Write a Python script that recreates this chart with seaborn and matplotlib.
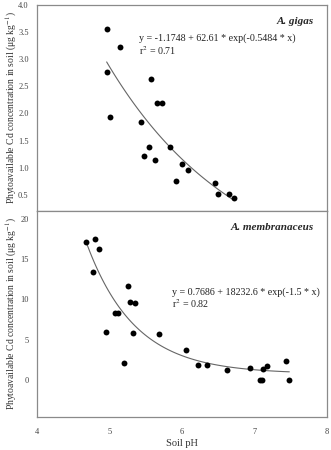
"""Phytoavailable Cd vs soil pH, two stacked panels."""
import numpy as np
import pandas as pd
import matplotlib
matplotlib.use("Agg")
import matplotlib.pyplot as plt
import seaborn as sns

# A. gigas
gigas_ph = [4.97, 5.15, 4.96, 5.00, 5.43, 5.55, 5.48, 5.57, 5.62, 5.66,
            5.73, 5.83, 6.00, 5.92, 6.08, 6.46, 6.50, 6.65, 6.72]
gigas_cd = [3.55, 3.22, 2.76, 1.93, 1.84, 1.39, 1.21, 2.63, 1.15, 2.19,
            2.19, 1.38, 1.06, 0.76, 0.96, 0.72, 0.52, 0.51, 0.44]
gigas_fit = (-1.1748, 62.61, -0.5484)

# A. membranaceus
memb_ph = [4.67, 4.80, 4.85, 4.77, 5.26, 5.28, 5.35, 5.07, 5.11, 4.95, 5.32,
           5.68, 5.20, 6.06, 6.22, 6.34, 6.62, 6.94, 7.08, 7.10, 7.11, 7.17,
           7.43, 7.48]
memb_cd = [17.1, 17.5, 16.3, 13.4, 11.7, 9.64, 9.6, 8.3, 8.35, 5.9, 5.8,
           5.7, 2.15, 3.7, 1.9, 1.8, 1.25, 1.45, 0.0, 0.0, 1.4, 1.7,
           2.4, 0.0]
memb_fit = (0.7686, 18232.6, -1.5)

sns.set_style("white")
plt.rcParams["font.family"] = ["Liberation Serif", "DejaVu Serif"]
plt.rcParams["mathtext.fontset"] = "stix"

fig = plt.figure(figsize=(3.31, 4.5), dpi=100)
ax1 = fig.add_axes([0.112, 0.531, 0.876, 0.458])
ax2 = fig.add_axes([0.112, 0.0733, 0.876, 0.458], sharex=ax1)

ylab = "Phytoavailable Cd concentration in soil (μg kg$^{-1}$)"
frame = "#8a8a8a"


def panel(ax, ph, cd, fit, name, eq, r2, eqpos):
    df = pd.DataFrame({"ph": ph, "cd": cd})
    sns.scatterplot(data=df, x="ph", y="cd", ax=ax, color="black",
                    s=18, edgecolor="black", linewidth=0, zorder=3)
    a, b, c = fit
    xs = np.linspace(min(ph), max(ph), 100)
    cur = pd.DataFrame({"ph": xs, "cd": a + b * np.exp(c * xs)})
    sns.lineplot(data=cur, x="ph", y="cd", ax=ax, color="#666666", lw=0.8)
    ax.text(0.955, 0.94, name, transform=ax.transAxes, ha="right", va="top",
            fontsize=8, fontweight="bold", fontstyle="italic")
    ax.text(eqpos[0], eqpos[1], eq + "\n" + r2, transform=ax.transAxes,
            ha="left", va="top", fontsize=7.2, color="#222222",
            linespacing=1.05)
    ax.set_ylabel(ylab, fontsize=6.9, color="#333333")
    ax.yaxis.set_label_coords(-0.062, 0.5)
    ax.set_xlabel("")
    for sp in ax.spines.values():
        sp.set_color(frame)
        sp.set_linewidth(0.9)
    ax.tick_params(axis="both", direction="out", length=3, width=0.6,
                   color=frame, labelsize=6, pad=3, labelcolor="#444444")


panel(ax1, gigas_ph, gigas_cd, gigas_fit, "A. gigas",
      "y = -1.1748 + 62.61 * exp(-0.5484 * x)", "r$^2$ = 0.71", (0.35, 0.86))
panel(ax2, memb_ph, memb_cd, memb_fit, "A. membranaceus",
      "y = 0.7686 + 18232.6 * exp(-1.5 * x)", "r$^2$ = 0.82", (0.465, 0.63))

ax1.set_xlim(4, 8)
ax1.set_ylim(0.2, 4.0)
ax1.set_yticks(np.arange(0.5, 4.01, 0.5))
ax1.yaxis.set_major_formatter(matplotlib.ticker.FormatStrFormatter("%.1f"))
ax1.tick_params(axis="x", labelbottom=False, length=0)

ax2.set_ylim(-4.6, 21)
ax2.set_yticks([0, 5, 10, 15, 20])
ax2.set_xticks([4, 5, 6, 7, 8])
ax2.tick_params(axis="x", pad=5)
ax2.set_xlabel("Soil pH", fontsize=7.5, labelpad=2, color="#333333")

fig.savefig("out.png", dpi=100)
